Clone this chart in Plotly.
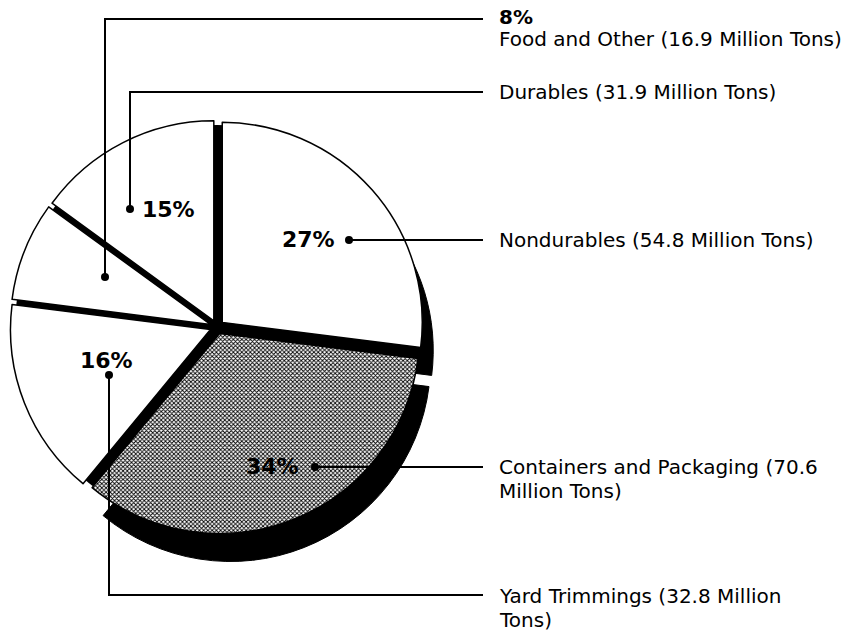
import plotly.graph_objects as go

# ---- data ----
categories = ["Nondurables", "Containers and Packaging", "Yard Trimmings", "Food and Other", "Durables"]
percents = [27, 34, 16, 8, 15]
tons = [54.8, 70.6, 32.8, 16.9, 31.9]
label_lines = [
    ["Nondurables (54.8 Million Tons)"],
    ["Containers and Packaging (70.6", "Million Tons)"],
    ["Yard Trimmings (32.8 Million", "Tons)"],
    ["Food and Other (16.9 Million Tons)"],
    ["Durables (31.9 Million Tons)"],
]

W, H = 851, 632
CX, CY, R = 217, 327, 200
PULL = 0.035
SHX, SHY = 11, 28

def px(x):
    return x / W

def py(y):
    return 1 - y / H

def dom(cx, cy, half):
    return dict(x=[px(cx - half), px(cx + half)], y=[py(cy + half), py(cy - half)])

Rd = R * (1 + PULL)

fig = go.Figure()
common = dict(values=percents, labels=categories, sort=False, direction="clockwise",
              rotation=0, textinfo="none", hoverinfo="label+percent", showlegend=False)

# shadow (offset black copy, visible under the two front slices)
shadow_cols = ["black", "black", "rgba(0,0,0,0)", "rgba(0,0,0,0)", "rgba(0,0,0,0)"]
fig.add_trace(go.Pie(**common, pull=[PULL] * 5, domain=dom(CX + SHX, CY + SHY, Rd),
                     marker=dict(colors=shadow_cols, line=dict(color=shadow_cols, width=1))))
# black base showing through the gaps
fig.add_trace(go.Pie(values=[1], labels=["base"], sort=False, textinfo="none", hoverinfo="skip",
                     showlegend=False, domain=dom(CX, CY, R + 2),
                     marker=dict(colors=["black"], line=dict(color="black", width=0))))
# main slices
fig.add_trace(go.Pie(**common, pull=[PULL] * 5, domain=dom(CX, CY, Rd),
                     marker=dict(colors=["white", "white", "white", "white", "white"],
                                 line=dict(color="black", width=1.5),
                                 pattern=dict(shape=["", "x", "", "", ""], fgcolor="black",
                                              bgcolor="white", size=3, solidity=0.5))))

# ---- callouts ----
LINE_END = 483
TEXT_X = 497
callouts = [
    dict(dot=(349, 240), path=[(349, 240), (LINE_END, 240)], ys=[240]),
    dict(dot=(315, 467), path=[(315, 467), (LINE_END, 467)], ys=[467, 491]),
    dict(dot=(109, 375), path=[(109, 375), (109, 595), (LINE_END, 595)], ys=[596, 620]),
    dict(dot=(105, 277), path=[(105, 277), (105, 19), (LINE_END, 19)], ys=[39]),
    dict(dot=(130, 209), path=[(130, 209), (130, 92), (LINE_END, 92)], ys=[92]),
]
pct_pos = [
    dict(x=337, y=239, xanchor="right", size=22),
    dict(x=301, y=466, xanchor="right", size=22),
    dict(x=106, y=360, xanchor="center", size=22),
    dict(x=497, y=17, xanchor="left", size=20),
    dict(x=140, y=209, xanchor="left", size=22),
]

shapes = []
annotations = []
for i, c in enumerate(callouts):
    pts = c["path"]
    d = "M " + " L ".join(f"{px(x)},{py(y)}" for x, y in pts)
    shapes.append(dict(type="path", path=d, xref="paper", yref="paper",
                       line=dict(color="black", width=2)))
    dx, dy = c["dot"]
    rr = 4
    shapes.append(dict(type="circle", xref="paper", yref="paper",
                       x0=px(dx - rr), x1=px(dx + rr), y0=py(dy + rr), y1=py(dy - rr),
                       fillcolor="black", line=dict(color="black", width=0)))
    for line, yy in zip(label_lines[i], c["ys"]):
        annotations.append(dict(text=line, x=px(TEXT_X), y=py(yy), xref="paper", yref="paper",
                                xanchor="left", yanchor="middle", showarrow=False,
                                font=dict(family="DejaVu Sans", size=20, color="black")))
    p = pct_pos[i]
    annotations.append(dict(text=f"<b>{percents[i]}%</b>", x=px(p["x"]), y=py(p["y"]),
                            xref="paper", yref="paper", xanchor=p["xanchor"], yanchor="middle",
                            showarrow=False,
                            font=dict(family="DejaVu Sans", size=p["size"], color="black")))

fig.update_layout(width=W, height=H, margin=dict(l=0, r=0, t=0, b=0),
                  paper_bgcolor="white", plot_bgcolor="white",
                  shapes=shapes, annotations=annotations)

fig.write_html("out.html", config={"displayModeBar": False},
               post_script="document.body.style.margin='0';document.body.style.overflow='hidden';")
